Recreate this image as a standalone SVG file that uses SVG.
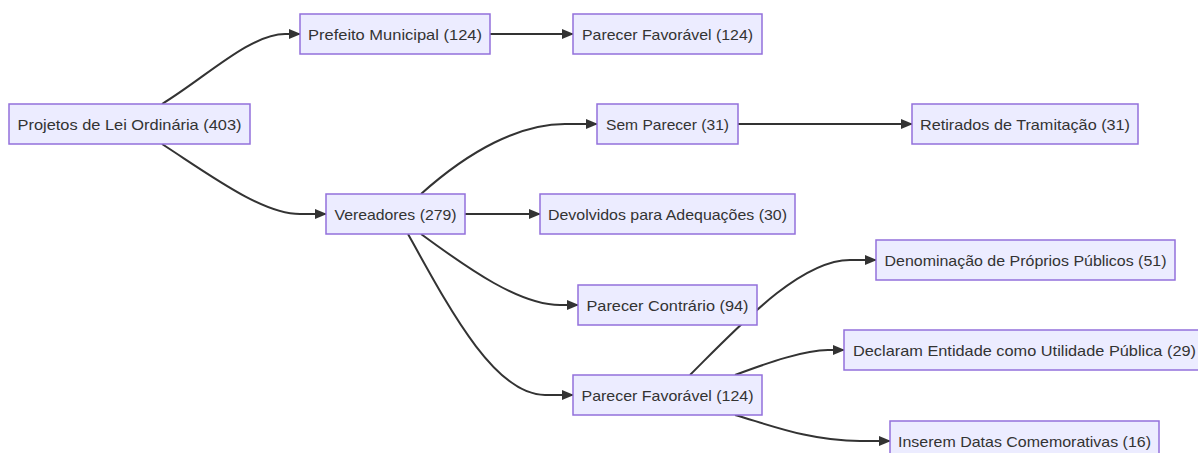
<svg xmlns="http://www.w3.org/2000/svg" width="1198" height="453" viewBox="0 0 1198 453">
<style>
.node rect{fill:#ECECFF;stroke:#9370DB;stroke-width:1.5}
.node text{font-family:"Liberation Sans",Arial,sans-serif;font-size:15px;fill:#333333;text-anchor:middle;dominant-baseline:central}
.edges path{fill:none;stroke:#333333;stroke-width:2}
</style>
<defs>
<marker id="arrow" viewBox="0 0 12 10" refX="11" refY="5" markerWidth="12" markerHeight="10" markerUnits="userSpaceOnUse" orient="auto">
<path d="M0,0 L12,5 L0,10 z" fill="#333333"/>
</marker>
</defs>
<rect width="1198" height="453" fill="#ffffff"/>
<g class="edges">
<path d="M162,104 C205,78 250,34 285,34 L300,34" marker-end="url(#arrow)"/>
<path d="M162,144 C210,175 262,214 300,214 L326,214" marker-end="url(#arrow)"/>
<path d="M490,34 L573,34" marker-end="url(#arrow)"/>
<path d="M421,194 C470,150 520,124 565,124 L597,124" marker-end="url(#arrow)"/>
<path d="M465,214 L540,214" marker-end="url(#arrow)"/>
<path d="M738,124 L912,124" marker-end="url(#arrow)"/>
<path d="M421,234 C470,270 520,305 560,305 L578,305" marker-end="url(#arrow)"/>
<path d="M408,234 C450,310 495,395 545,395 L573,395" marker-end="url(#arrow)"/>
<path d="M690,375 C740,325 800,260 850,260 L876,260" marker-end="url(#arrow)"/>
<path d="M735,375 C770,362 805,350 828,350 L844,350" marker-end="url(#arrow)"/>
<path d="M735,415 C770,425 810,441 860,441 L890,441" marker-end="url(#arrow)"/>
</g>
<g id="n-projetos" class="node"><rect x="9" y="104" width="241" height="40"/><text x="129.5" y="124" textLength="224" lengthAdjust="spacingAndGlyphs">Projetos de Lei Ordinária (403)</text></g>
<g id="n-prefeito" class="node"><rect x="300" y="14" width="190" height="40"/><text x="395" y="34" textLength="174" lengthAdjust="spacingAndGlyphs">Prefeito Municipal (124)</text></g>
<g id="n-pf1" class="node"><rect x="573" y="14" width="189" height="40"/><text x="667.5" y="34" textLength="171" lengthAdjust="spacingAndGlyphs">Parecer Favorável (124)</text></g>
<g id="n-vereadores" class="node"><rect x="326" y="194" width="139" height="40"/><text x="395.5" y="214" textLength="122" lengthAdjust="spacingAndGlyphs">Vereadores (279)</text></g>
<g id="n-sem" class="node"><rect x="597" y="104" width="141" height="40"/><text x="667.5" y="124" textLength="123" lengthAdjust="spacingAndGlyphs">Sem Parecer (31)</text></g>
<g id="n-retirados" class="node"><rect x="912" y="104" width="226" height="40"/><text x="1025" y="124" textLength="210" lengthAdjust="spacingAndGlyphs">Retirados de Tramitação (31)</text></g>
<g id="n-devolvidos" class="node"><rect x="540" y="194" width="255" height="40"/><text x="667.5" y="214" textLength="239" lengthAdjust="spacingAndGlyphs">Devolvidos para Adequações (30)</text></g>
<g id="n-contrario" class="node"><rect x="578" y="285" width="179" height="40"/><text x="667.5" y="305" textLength="162" lengthAdjust="spacingAndGlyphs">Parecer Contrário (94)</text></g>
<g id="n-pf2" class="node"><rect x="573" y="375" width="189" height="40"/><text x="667.5" y="395" textLength="172" lengthAdjust="spacingAndGlyphs">Parecer Favorável (124)</text></g>
<g id="n-denominacao" class="node"><rect x="876" y="240" width="299" height="40"/><text x="1025.5" y="260" textLength="282" lengthAdjust="spacingAndGlyphs">Denominação de Próprios Públicos (51)</text></g>
<g id="n-declaram" class="node"><rect x="844" y="330" width="359" height="40"/><text x="1024.5" y="350" textLength="343" lengthAdjust="spacingAndGlyphs">Declaram Entidade como Utilidade Pública (29)</text></g>
<g id="n-inserem" class="node"><rect x="890" y="421" width="269" height="40"/><text x="1024.5" y="441" textLength="253" lengthAdjust="spacingAndGlyphs">Inserem Datas Comemorativas (16)</text></g>
</svg>
